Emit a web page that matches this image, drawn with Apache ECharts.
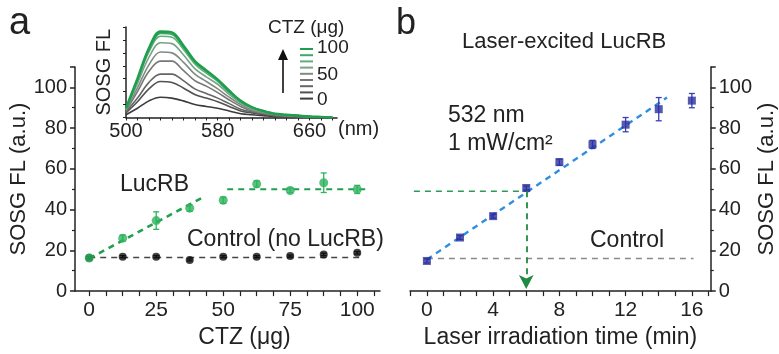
<!DOCTYPE html>
<html>
<head>
<meta charset="utf-8">
<script src="https://cdn.jsdelivr.net/npm/echarts@6/dist/echarts.min.js"></script>
<style>
    html, body { margin: 0; padding: 0; background: #fff; }
    #chart { width: 779px; height: 354px; }
</style>
</head>
<body>
<div id="chart"></div>
<script>
const FONT = 'Liberation Sans, Arial, Helvetica, sans-serif';
const INK = '#222';

// panel a - SOSG FL vs CTZ amount
const ctzAmounts = [0, 12.5, 25, 37.5, 50, 62.5, 75, 87.5, 100];
const lucrbFL = [16.2, 26, 34.6, 40.7, 44.6, 52.6, 49.4, 53.2, 49.9];
const lucrbErr = [1, 1.5, 4.3, 1.5, 1.5, 1.5, 1.2, 4.8, 2];
const controlFL = [16.4, 16.9, 16.9, 15.3, 16.9, 16.9, 17.2, 18, 18.8];
const controlErr = [0.5, 0.5, 0.5, 0.5, 0.5, 0.5, 0.5, 0.6, 0.6];
const lucrbRiseFit = [[0, 16], [42.5, 46.1]];
const lucrbPlateauFit = [[51.5, 50], [103, 50]];
const controlFit = [[0, 16.5], [102, 16.5]];
const ctzTicks = [0, 6.25, 12.5, 18.75, 25, 31.25, 37.5, 43.75, 50, 56.25, 62.5, 68.75, 75, 81.25, 87.5, 93.75, 100, 106.25];
const ctzLabels = [0, 25, 50, 75, 100];

// inset - SOSG emission spectra
const wavelengths = [500, 510, 520, 530, 540, 550, 560, 570, 580, 590, 600, 610, 620, 630, 640, 650, 660, 670, 680];
const spec0 = [3, 10, 18, 22, 21, 18, 14, 12, 10, 7, 4, 3, 2, 1, 1, 0.5, 0.3, 0, 0];
const spec12 = [5, 17, 31, 39, 38, 32, 25, 21, 17, 12, 7, 5, 3, 2, 1, 1, 0.5, 0, 0];
const spec25 = [6, 21, 38, 47, 47, 40, 31, 26, 21, 15, 9, 6, 4, 2, 1.5, 1, 0.5, 0, 0];
const spec37 = [7, 28, 50, 61, 61, 51, 40, 34, 27, 19, 12, 7, 5, 3, 2, 1, 0.7, 0.3, 0];
const spec50 = [8, 32, 57, 71, 70, 60, 47, 39, 31, 22, 14, 8, 5, 3, 2, 1.5, 0.8, 0.4, 0];
const spec62 = [9, 37, 65, 81, 80, 68, 53, 44, 36, 25, 16, 10, 6, 3.5, 2.6, 1.7, 0.9, 0.4, 0];
const spec75 = [9, 40, 71, 88, 87, 74, 58, 48, 39, 27, 17, 10, 7, 4, 3, 2, 1, 0.5, 0];
const spec87 = [10, 41, 73, 91, 90, 76, 60, 50, 40, 28, 18, 11, 7, 4, 3, 2, 1, 0.5, 0];
const spec100 = [10, 42, 75, 93, 92, 78, 61, 51, 41, 29, 18, 11, 7, 4, 3, 2, 1, 0.5, 0];
const specColors = ['#3c3c3c', '#515151', '#666666', '#777777', '#7f8c82', '#78a386', '#62ad7d', '#3fa96a', '#1f9e4e'];
const nmLabels = [500, 580, 660];

// panel b - laser excited LucRB
const laserTimes = [0, 2, 4, 6, 8, 10, 12, 14, 16];
const laserFL = [14.8, 26.3, 36.8, 50.6, 63.3, 72, 81.7, 89.3, 93.5];
const laserErr = [1, 1, 1, 1, 1.5, 2, 3.5, 5.7, 3.5];
const laserFit = [[0, 15.5], [14.5, 95]];
const laserControl = [[0, 16], [16.1, 16]];
const halfLevel = [[-1.45, 49], [6, 49]];
const halfDrop = [6, 49, 1];
const timeTicks = [-1, 0, 1, 2, 3, 4, 5, 6, 7, 8, 9, 10, 11, 12, 13, 14, 15, 16, 17];
const timeLabels = [0, 4, 8, 12, 16];

function zip(xs, ys, es) {
    return xs.map((x, i) => es ? [x, ys[i], es[i]] : [x, ys[i]]);
}

function errorBars(color) {
    return function (params, api) {
        const x = api.value(0), y = api.value(1), e = api.value(2);
        const hi = api.coord([x, y + e]);
        const lo = api.coord([x, y - e]);
        const cap = 3;
        const style = {stroke: color, lineWidth: 1.3};
        return {
            type: 'group',
            children: [
                {type: 'line', shape: {x1: hi[0], y1: hi[1], x2: lo[0], y2: lo[1]}, style: style},
                {type: 'line', shape: {x1: hi[0] - cap, y1: hi[1], x2: hi[0] + cap, y2: hi[1]}, style: style},
                {type: 'line', shape: {x1: lo[0] - cap, y1: lo[1], x2: lo[0] + cap, y2: lo[1]}, style: style}
            ]
        };
    };
}

function dashed(idx, data, color, width, extra) {
    return Object.assign({
        type: 'line', xAxisIndex: idx, yAxisIndex: idx, data: data,
        showSymbol: false, silent: true, z: 2,
        lineStyle: {color: color, width: width, type: [6, 5]}
    }, extra || {});
}

const axisLineStyle = {color: INK, width: 1.5};

function valueYAxis(idx, position, nameGap) {
    return {
        type: 'value', gridIndex: idx, position: position,
        min: 0, max: 110, interval: 20,
        axisLine: {show: true, onZero: false, lineStyle: axisLineStyle},
        axisTick: {show: true, length: 5, lineStyle: axisLineStyle},
        minorTick: {show: true, splitNumber: 2, length: 3, lineStyle: {color: INK, width: 1.2}},
        axisLabel: {
            fontSize: 20, fontFamily: FONT, color: INK, margin: 8,
            formatter: v => v > 100 ? '' : v
        },
        splitLine: {show: false},
        name: 'SOSG FL (a.u.)', nameLocation: 'middle', nameRotate: 90, nameGap: nameGap,
        nameTextStyle: {fontSize: 22, fontFamily: FONT, color: INK}
    };
}

const inkText = (x, y, text, size, extra) => ({
    type: 'text', x: x, y: y, silent: true,
    style: Object.assign({text: text, fontSize: size, fontFamily: FONT, fill: INK, verticalAlign: 'middle'}, extra || {})
});

const legendGraphics = [];
specColors.slice().reverse().forEach((c, i) => {
    legendGraphics.push({
        type: 'line', silent: true,
        shape: {x1: 300, y1: 49 + i * 6.2, x2: 313, y2: 49 + i * 6.2},
        style: {stroke: c, lineWidth: 2}
    });
});

const chart = echarts.init(document.getElementById('chart'));

const option = {
    animation: false,
    backgroundColor: '#fff',
    textStyle: {fontFamily: FONT},
    grid: [
        {left: 75, top: 67, width: 305, height: 229},
        {left: 410, top: 67, width: 302, height: 227},
        {left: 126, top: 27, width: 211, height: 90.5}
    ],
    xAxis: [
        {
            type: 'value', gridIndex: 0, min: -5.3, max: 108.5,
            axisLine: {show: true, onZero: false, lineStyle: axisLineStyle},
            axisTick: {show: true, length: 5, customValues: ctzTicks, lineStyle: {color: INK, width: 1.2}},
            axisLabel: {customValues: ctzLabels, fontSize: 21, fontFamily: FONT, color: INK, margin: 9},
            splitLine: {show: false},
            name: 'CTZ (μg)', nameLocation: 'middle', nameGap: 33,
            nameTextStyle: {fontSize: 23, fontFamily: FONT, color: INK, padding: [0, 0, 0, 34]}
        },
        {
            type: 'value', gridIndex: 1, min: -1.02, max: 17.14,
            axisLine: {show: true, onZero: false, lineStyle: axisLineStyle},
            axisTick: {show: true, length: 5, customValues: timeTicks, lineStyle: {color: INK, width: 1.2}},
            axisLabel: {customValues: timeLabels, fontSize: 21, fontFamily: FONT, color: INK, margin: 9},
            splitLine: {show: false},
            name: 'Laser irradiation time (min)', nameLocation: 'middle', nameGap: 33,
            nameTextStyle: {fontSize: 23, fontFamily: FONT, color: INK}
        },
        {
            type: 'value', gridIndex: 2, min: 500, max: 684,
            axisLine: {show: true, onZero: false, lineStyle: axisLineStyle},
            axisTick: {show: true, length: 3, customValues: wavelengths, lineStyle: {color: INK, width: 1}},
            axisLabel: {customValues: nmLabels, fontSize: 20, fontFamily: FONT, color: INK, margin: 4},
            splitLine: {show: false}
        }
    ],
    yAxis: [
        valueYAxis(0, 'left', 40),
        valueYAxis(1, 'right', 41),
        {
            type: 'value', gridIndex: 2, min: 0, max: 98, interval: 14,
            axisLine: {show: true, onZero: false, lineStyle: axisLineStyle},
            axisTick: {show: true, length: 3, lineStyle: {color: INK, width: 1}},
            axisLabel: {show: false},
            splitLine: {show: false},
            name: 'SOSG FL', nameLocation: 'middle', nameRotate: 90, nameGap: 12,
            nameTextStyle: {fontSize: 20, fontFamily: FONT, color: INK}
        }
    ],
    series: [
        // panel a
        dashed(0, controlFit, '#444', 1.6),
        dashed(0, lucrbRiseFit, '#22a04f', 2.6),
        dashed(0, lucrbPlateauFit, '#22a04f', 1.8),
        {
            type: 'custom', xAxisIndex: 0, yAxisIndex: 0, z: 3,
            data: zip(ctzAmounts, lucrbFL, lucrbErr), encode: {x: 0, y: 1},
            renderItem: errorBars('#2db35c')
        },
        {
            type: 'custom', xAxisIndex: 0, yAxisIndex: 0, z: 3,
            data: zip(ctzAmounts, controlFL, controlErr), encode: {x: 0, y: 1},
            renderItem: errorBars('#111')
        },
        {
            type: 'scatter', xAxisIndex: 0, yAxisIndex: 0, z: 4,
            data: zip(ctzAmounts, controlFL), symbol: 'circle', symbolSize: 8,
            itemStyle: {color: '#111'}
        },
        {
            type: 'scatter', xAxisIndex: 0, yAxisIndex: 0, z: 4,
            data: zip(ctzAmounts, lucrbFL), symbol: 'circle', symbolSize: 9,
            itemStyle: {color: '#2db35c'}
        },
        // inset spectra
        ...[spec0, spec12, spec25, spec37, spec50, spec62, spec75, spec87, spec100].map((s, i) => ({
            type: 'line', xAxisIndex: 2, yAxisIndex: 2, z: 5,
            data: zip(wavelengths, s), smooth: 0.35, showSymbol: false, silent: true,
            lineStyle: {color: specColors[i], width: i === 8 ? 2.6 : 1.6}
        })),
        // panel b
        dashed(1, laserControl, '#8a8a8a', 1.5),
        dashed(1, laserFit, '#2e8fe0', 2.4),
        dashed(1, halfLevel, '#2e9a55', 1.6, {
            clip: false,
            markLine: {
                silent: true, symbol: ['none', 'arrow'], symbolSize: [11, 14],
                label: {show: false},
                lineStyle: {color: '#1f8a42', width: 1.8, type: [6, 5]},
                data: [[{coord: [halfDrop[0], halfDrop[1]]}, {coord: [halfDrop[0], halfDrop[2]]}]]
            }
        }),
        {
            type: 'custom', xAxisIndex: 1, yAxisIndex: 1, z: 3,
            data: zip(laserTimes, laserFL, laserErr), encode: {x: 0, y: 1},
            renderItem: errorBars('#3a3fb0')
        },
        {
            type: 'scatter', xAxisIndex: 1, yAxisIndex: 1, z: 4,
            data: zip(laserTimes, laserFL), symbol: 'rect', symbolSize: 8,
            itemStyle: {color: '#2a2f9c'}
        }
    ],
    graphic: [
        inkText(9, 24, 'a', 38),
        inkText(396, 24, 'b', 36),
        inkText(462, 42, 'Laser-excited LucRB', 22),
        inkText(448, 116, '532 nm', 23),
        inkText(448, 144, '1 mW/cm²', 23),
        inkText(120, 185, 'LucRB', 23),
        inkText(187, 240, 'Control (no LucRB)', 23),
        inkText(590, 241, 'Control', 23),
        inkText(268, 28, 'CTZ (μg)', 19),
        inkText(317, 47.5, '100', 19),
        inkText(317, 75, '50', 19),
        inkText(317, 100, '0', 19),
        inkText(338, 129, '(nm)', 20),
        {
            type: 'line', silent: true,
            shape: {x1: 283, y1: 93, x2: 283, y2: 58},
            style: {stroke: '#111', lineWidth: 1.6}
        },
        {
            type: 'polygon', silent: true,
            shape: {points: [[283, 49], [278, 60], [288, 60]]},
            style: {fill: '#111'}
        },
        ...legendGraphics
    ]
};

chart.setOption(option);
</script>
</body>
</html>
